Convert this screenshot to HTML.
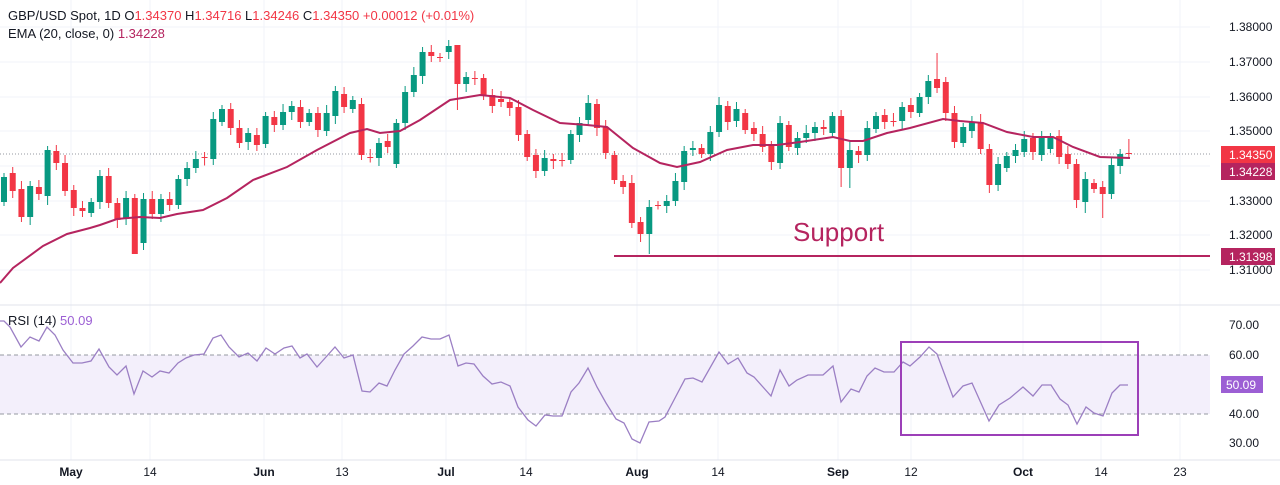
<!DOCTYPE html>
<html><head><meta charset="utf-8"><style>
html,body{margin:0;padding:0;background:#fff;width:1280px;height:485px;overflow:hidden}
svg{display:block;font-family:"Liberation Sans",sans-serif}
</style></head><body>
<svg id="s" width="1280" height="485" viewBox="0 0 1280 485" xmlns="http://www.w3.org/2000/svg">
<g id="grid" stroke="#f0f3fa" stroke-width="1"></g>
<rect x="0" y="355" width="1210" height="59" fill="#f3effb"/>
<line x1="0" y1="355" x2="1210" y2="355" stroke="#9598a1" stroke-dasharray="4,3"/>
<line x1="0" y1="414" x2="1210" y2="414" stroke="#9598a1" stroke-dasharray="4,3"/>
<line x1="0" y1="305" x2="1280" y2="305" stroke="#e0e3eb"/>
<line x1="0" y1="460" x2="1280" y2="460" stroke="#e0e3eb"/>
<line x1="0" y1="154" x2="1210" y2="154" stroke="#9598a1" stroke-dasharray="1,2"/>
<g id="candles"></g>
<polyline id="ema" fill="none" stroke="#b5245f" stroke-width="2"/>
<line x1="614" y1="256" x2="1210" y2="256" stroke="#b5245f" stroke-width="2"/>
<text x="793" y="241" font-size="26" fill="#b5245f">Support</text>
<polyline id="rsi" fill="none" stroke="#9b7fc4" stroke-width="1.3"/>
<rect x="901" y="342" width="237" height="93" fill="none" stroke="#9c3fb8" stroke-width="2"/>
<g font-size="12" fill="#131722" id="axis"></g>
<rect x="1221" y="146" width="54" height="17" fill="#f23645"/>
<text x="1229" y="159" font-size="12" fill="#fff">1.34350</text>
<rect x="1221" y="163" width="54" height="17" fill="#b5245f"/>
<text x="1229" y="176" font-size="12" fill="#fff">1.34228</text>
<rect x="1221" y="248" width="54" height="17" fill="#b5245f"/>
<text x="1229" y="261" font-size="12" fill="#fff">1.31398</text>
<rect x="1221" y="376" width="42" height="17" fill="#9c5fd4"/>
<text x="1226" y="389" font-size="12" fill="#fff">50.09</text>
<text x="8" y="20" font-size="13" fill="#131722">GBP/USD Spot, 1D  O<tspan fill="#f23645">1.34370</tspan>  H<tspan fill="#f23645">1.34716</tspan>  L<tspan fill="#f23645">1.34246</tspan>  C<tspan fill="#f23645">1.34350</tspan>  <tspan fill="#f23645">+0.00012 (+0.01%)</tspan></text>
<text x="8" y="38" font-size="13" fill="#131722">EMA (20, close, 0)  <tspan fill="#b5245f">1.34228</tspan></text>
<text x="8" y="325" font-size="13" fill="#131722">RSI (14)  <tspan fill="#9c5fd4">50.09</tspan></text>
</svg>
<script>
var NS="http://www.w3.org/2000/svg";
function el(t,a,p){var e=document.createElementNS(NS,t);for(var k in a)e.setAttribute(k,a[k]);if(p)p.appendChild(e);return e;}
var grid=document.getElementById('grid'),axis=document.getElementById('axis');
var vx=[71,150,264,342,446,526,637,718,838,911,1023,1101,1180];
vx.forEach(function(x){el('line',{x1:x,y1:0,x2:x,y2:460},grid);});
var py=[27,62,97,131,166,201,235,270];
py.forEach(function(y){el('line',{x1:0,y1:y,x2:1210,y2:y},grid);});
['1.38000','1.37000','1.36000','1.35000','1.34000','1.33000','1.32000','1.31000'].forEach(function(t,i){
 if(i==4)return;var e=el('text',{x:1229,y:py[i]+4},axis);e.textContent=t;});
[[325,'70.00'],[355,'60.00'],[414,'40.00'],[443,'30.00']].forEach(function(a){var e=el('text',{x:1229,y:a[0]+4},axis);e.textContent=a[1];});
var lab=[['May',71,1],['14',150,0],['Jun',264,1],['13',342,0],['Jul',446,1],['14',526,0],['Aug',637,1],['14',718,0],['Sep',838,1],['12',911,0],['Oct',1023,1],['14',1101,0],['23',1180,0]];
lab.forEach(function(l){var e=el('text',{x:l[1],y:476,'text-anchor':'middle','font-weight':l[2]?'bold':'normal'},axis);e.textContent=l[0];});
// candles: [open_y, close_y]
var C=[[202,177],[173,191],[189,217],[217,186],[187,194],[196,150],[151,163],[163,191],[190,208],[208,211],[213,202],[202,176],[176,203],[203,220],[219,198],[198,254],[243,199],[199,214],[214,199],[199,205],[205,179],[179,168],[168,159],[157,157.5],[159,119],[122,109],[109,128],[128,143],[142,133],[135,145],[144,116],[117,125],[125,112],[112,106],[107,122],[122,113],[113,130],[131,113],[116,91],[94,107],[109,100],[104,155],[157,157.5],[158,143],[141,147],[164,123],[123,92],[92,75],
[76,52],[52,56],[57,58],[52,46],[45,84],[84,77],[78,79],[78,96],[95,106],[99,102],[102,108],[107,135],[134,157],[155,171],[171,158],[159,161],[160,160.5],[160,134],[135,123],[120,103],[104,128],[127,153],[155,180],[181,187],[183,223],[222,234],[234,207],[205,205.5],[206,201],[201,181],[182,151],[150,148],[148,154],[154,132],[132,105],[106,122],[121,109],[113,130],[128,134],[134,147],[146,162],[163,123],[125,147],[148,138],[138,133],[133,127],
[127,129],[133,116],[116,168],[168,150],[151,155],[155,128],[129,116],[115,122],[121,121.5],[121,107],[105,112],[113,97],[97,81],[79,88],[82,113],[113,142],[143,127],[131,122],[122,149],[149,185],[185,164],[168,156],[156,150],[152,139],[138,152],[155,138],[149,137],[136,157],[154,164],[164,200],[202,179],[183,189],[187,194],[194,165],[166,154],[153,153.5]];
var ext={15:[0,254],52:[45,110],74:[200,254],107:[53,0],96:[0,187],97:[0,188],126:[0,218],123:[0,208],124:[0,213],129:[139,157],5:[0,205],45:[0,168],41:[0,160],86:[0,0]};
var g=document.getElementById('candles');
C.forEach(function(c,i){
 var x=4+i*8.72,o=c[0],cl=c[1],up=cl<o;var col=up?'#089981':'#f23645';
 var top=Math.min(o,cl),bot=Math.max(o,cl);
 var hi=top-4-(i*7%5),lo=bot+4+(i*3%5);
 if(ext[i]){if(ext[i][0])hi=ext[i][0];if(ext[i][1])lo=ext[i][1];}
 el('line',{x1:x,y1:hi,x2:x,y2:lo,stroke:col,'stroke-width':1},g);
 el('rect',{x:x-3,y:top,width:6,height:Math.max(1,bot-top),fill:col},g);
});
var E=[[0,283],[13,268],[43,246],[67,234],[90,228],[100,225],[117,219],[140,217],[160,218],[177,214],[203,210],[227,198],[253,180],[287,167],[317,150],[350,133],[367,129],[380,133],[400,131],[420,120],[450,100],[480,95],[510,98],[533,110],[560,123],[587,125],[607,127],[633,148],[660,163],[677,167],[700,162],[727,150],[753,145],[777,145],[800,142],[833,137],[850,141],[863,141],[887,133],[910,128],[943,119],[960,121],[983,123],[1007,132],[1033,137],[1053,137],[1073,147],[1100,157],[1130,158]];
document.getElementById('ema').setAttribute('points',E.map(function(p){return p.join(',')}).join(' '));
var R=[[0,321],[4,321],[10,327],[21,347],[30,337],[39,341],[47,327],[55,335],[63,350],[73,363],[82,363],[91,361],[99,349],[109,367],[117,375],[126,366],[134,394],[143,371],[152,377],[160,371],[169,373],[178,363],[186,358],[194,355],[204,354],[213,338],[221,335],[229,347],[239,357],[248,353],[257,361],[266,348],[275,354],[284,348],[292,346],[300,358],[307,354],[317,367],[326,357],[335,347],[344,358],[353,355],[362,391],[370,392],[379,383],[387,386],[395,370],[404,354],[413,346],[422,337],[431,339],[440,339],[449,335],[458,366],[466,363],[474,364],[483,376],[492,384],[501,382],[510,386],[518,407],[528,420],[536,426],[545,415],[553,416],[562,416],[571,392],[579,383],[588,368],[597,387],[606,403],[616,419],[624,423],[632,439],[640,443],[649,422],[659,421],[665,417],[675,398],[685,379],[693,378],[702,382],[719,352],[728,364],[738,358],[747,373],[754,377],[771,396],[780,370],[789,386],[797,380],[808,375],[823,375],[833,366],[841,402],[851,389],[859,392],[867,376],[875,368],[884,372],[894,372],[903,362],[910,366],[920,357],[929,347],[937,354],[953,397],[963,386],[972,383],[989,421],[999,405],[1010,398],[1023,387],[1033,396],[1042,385],[1051,385],[1060,399],[1068,405],[1077,424],[1086,407],[1094,413],[1103,416],[1112,393],[1120,385],[1128,385]];
document.getElementById('rsi').setAttribute('points',R.map(function(p){return p.join(',')}).join(' '));
</script>
</body></html>
